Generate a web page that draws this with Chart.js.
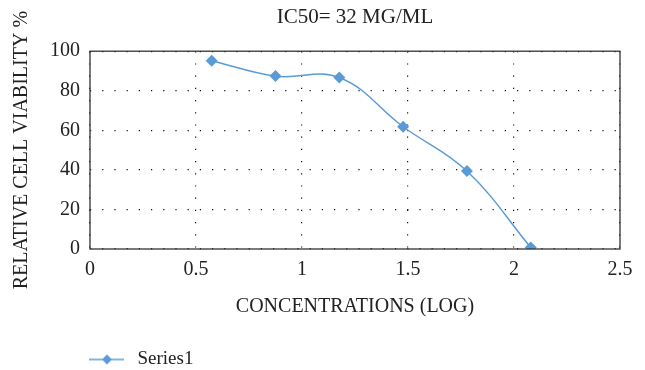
<!DOCTYPE html>
<html>
<head>
<meta charset="utf-8">
<script src="https://cdn.jsdelivr.net/npm/chart.js@4/dist/chart.umd.min.js"></script>
<style>
  html, body { margin: 0; padding: 0; background: #fff; }
  canvas { display: block; }
</style>
</head>
<body>
<canvas id="ic50" width="645" height="370"></canvas>
<script>
// log10 of concentration (mg/ml) vs relative viability %
const logConc = [0.574, 0.875, 1.176, 1.477, 1.778, 2.079];
const viability = [95.2, 87.4, 86.7, 61.8, 39.4, 0.8];
const xTicks = [0, 0.5, 1, 1.5, 2, 2.5];
const yTicks = [0, 20, 40, 60, 80, 100];

const blue = '#5B9BD5';
const serif = "'Liberation Serif', 'DejaVu Serif', serif";

// legend swatch: short line with a diamond, like Excel
const swatch = document.createElement('canvas');
swatch.width = 128;
swatch.height = 14;
const sctx = swatch.getContext('2d');
sctx.strokeStyle = blue;
sctx.lineWidth = 1.5;
sctx.beginPath();
sctx.moveTo(89, 7);
sctx.lineTo(124, 7);
sctx.stroke();
sctx.fillStyle = blue;
sctx.beginPath();
sctx.moveTo(107, 2);
sctx.lineTo(112, 7);
sctx.lineTo(107, 12);
sctx.lineTo(102, 7);
sctx.closePath();
sctx.fill();

const frame = {
  id: 'frame',
  afterLayout(chart) {
    // legend sits a bit lower, title is centred over the plot area
    const lg = chart.legend;
    if (lg) { lg.top += 9; lg.bottom += 9; }
    const tb = chart.titleBlock;
    if (tb) { tb.left = chart.chartArea.left; tb.right = chart.chartArea.right; }
  },
  afterDatasetsDraw(chart) {
    const { ctx, chartArea: a } = chart;
    ctx.save();
    ctx.strokeStyle = '#333';
    ctx.lineWidth = 1.3;
    ctx.strokeRect(a.left, a.top, a.right - a.left, a.bottom - a.top);
    ctx.restore();
  }
};

Chart.defaults.font.family = serif;
Chart.defaults.color = '#222';

new Chart(document.getElementById('ic50'), {
  type: 'line',
  data: {
    datasets: [{
      label: 'Series1',
      data: logConc.map((x, i) => ({ x: x, y: viability[i] })),
      borderColor: blue,
      backgroundColor: blue,
      borderWidth: 1.5,
      pointStyle: 'rectRot',
      pointRadius: 6,
      pointBorderWidth: 0,
      tension: 0.4,
      fill: false
    }]
  },
  options: {
    responsive: false,
    animation: false,
    layout: { padding: { left: 0, right: 25, top: 0, bottom: 0 } },
    plugins: {
      title: {
        display: true,
        text: 'IC50= 32 MG/ML',
        font: { size: 21, weight: 'normal' },
        color: '#222',
        padding: { top: 5, bottom: 21 }
      },
      legend: {
        position: 'bottom',
        align: 'start',
        labels: {
          usePointStyle: true,
          pointStyle: swatch,
          pointStyleWidth: 128,
          padding: 0,
          font: { size: 19 },
          color: '#222'
        }
      },
      tooltip: { enabled: false }
    },
    scales: {
      x: {
        type: 'linear',
        min: xTicks[0],
        max: xTicks[xTicks.length - 1],
        afterBuildTicks: s => { s.ticks = xTicks.map(v => ({ value: v })); },
        afterFit: s => { s.height = 92; },
        ticks: {
          font: { size: 20 },
          padding: 9,
          autoSkip: false,
          maxRotation: 0,
          callback: v => String(v)
        },
        grid: { color: '#111', lineWidth: 1.2, drawTicks: false },
        border: { display: false, dash: [1.2, 11] },
        title: {
          display: true,
          text: 'CONCENTRATIONS (LOG)',
          font: { size: 20 },
          padding: { top: 0, bottom: 22 }
        }
      },
      y: {
        min: yTicks[0],
        max: yTicks[yTicks.length - 1],
        afterBuildTicks: s => { s.ticks = yTicks.map(v => ({ value: v })); },
        afterFit: s => { s.width = 90; },
        ticks: { font: { size: 20 }, padding: 10 },
        grid: { color: '#111', lineWidth: 1.2, drawTicks: false },
        border: { display: false, dash: [1.2, 11] },
        title: {
          display: true,
          text: 'RELATIVE CELL VIABILITY %',
          font: { size: 20 },
          padding: { top: 10, bottom: 0 }
        }
      }
    }
  },
  plugins: [frame]
});
</script>
</body>
</html>
